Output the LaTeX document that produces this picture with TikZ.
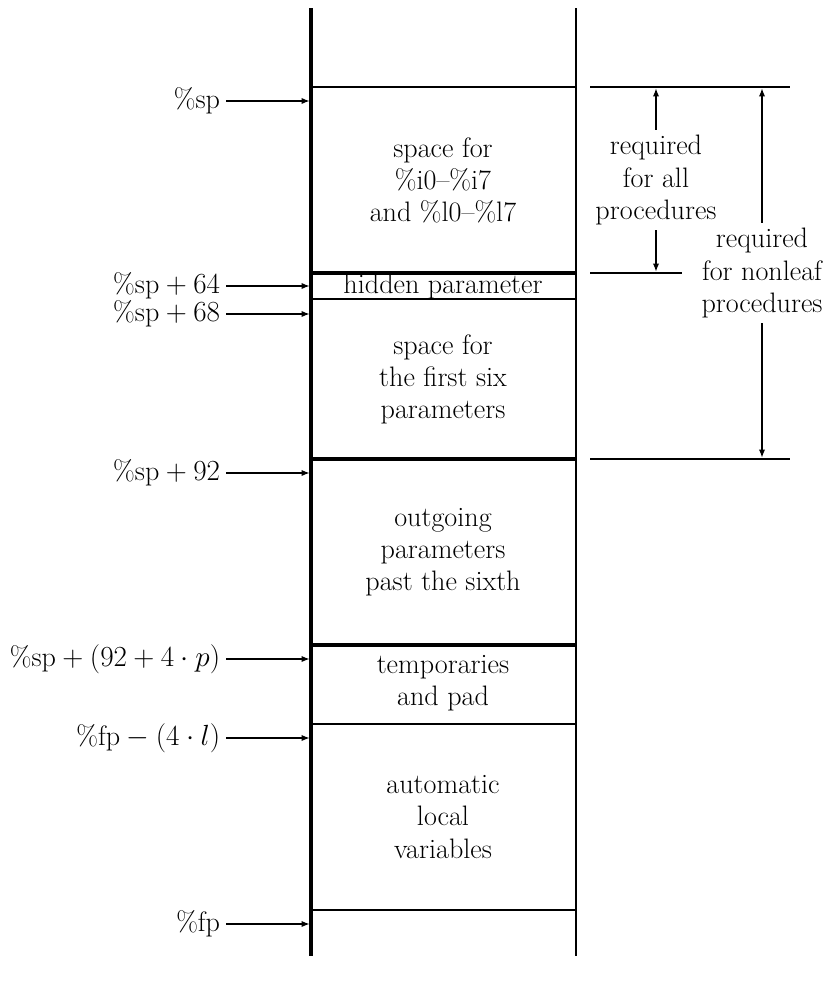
\documentclass[tikz,border=0pt]{standalone}
\usetikzlibrary{arrows.meta}
\tikzset{
  lbl/.style={anchor=east,inner sep=4pt},
  txt/.style={align=center,inner sep=4pt},
  ptr/.style={line width=1.8pt,-{Latex[length=6pt,width=4.5pt]}},
  sepline/.style={line width=1.5pt},
  boldline/.style={line width=2.2pt}
}
\begin{document}
\begin{tikzpicture}[x=0.025cm,y=-0.025cm,font=\fontsize{20}{22.8}\selectfont]
            \useasboundingbox (0,0) rectangle (831,986);
            % the stack
            \draw[boldline] (311,8) -- (311,956);
            \draw[sepline] (576,8) -- (576,956);
            \draw[sepline] (311,87) -- (576,87);
            \draw[boldline] (311,273) -- (576,273);
            \draw[sepline] (311,299) -- (576,299);
            \draw[boldline] (311,459) -- (576,459);
            \draw[boldline] (311,645) -- (576,645);
            \draw[sepline] (311,724) -- (576,724);
            \draw[sepline] (311,910) -- (576,910);

            \node[txt] (save) at (443,180) {space for\\\%i0--\%i7\\and \%l0--\%l7};
            \node[txt] (hidden) at (443,286) {hidden parameter};
            \node[txt] (six) at (443,379) {space for\\the first six\\parameters};
            \node[txt] (outgo) at (443,552) {outgoing\\parameters\\past the sixth};
            \node[txt] (temps) at (443,683) {temporaries\\and pad};
            \node[txt] (locals) at (443,817) {automatic\\local\\variables};

            % pointers into the stack
            \node[lbl] (sp) at (226,101) {\%sp};
            \node[lbl] (sp64) at (226,286) {\%sp${}+64$};
            \node[lbl] (sp68) at (226,314) {\%sp${}+68$};
            \node[lbl] (sp92) at (226,473) {\%sp${}+92$};
            \node[lbl] (spp) at (226,659) {\%sp${}+(92+4\cdot p)$};
            \node[lbl] (fpl) at (226,738) {\%fp${}-(4\cdot l)$};
            \node[lbl] (fp) at (226,924) {\%fp};

            \coordinate (w1) at (310,101);
            \coordinate (w2) at (310,286);
            \coordinate (w3) at (310,314);
            \coordinate (w4) at (310,473);
            \coordinate (w5) at (310,659);
            \coordinate (w6) at (310,738);
            \coordinate (w7) at (310,924);

            \draw[ptr] (sp) -- (w1);
            \draw[ptr] (sp64) -- (w2);
            \draw[ptr] (sp68) -- (w3);
            \draw[ptr] (sp92) -- (w4);
            \draw[ptr] (spp) -- (w5);
            \draw[ptr] (fpl) -- (w6);
            \draw[ptr] (fp) -- (w7);

            % sizes on the right
            \draw[sepline] (590,87) -- (790,87);
            \draw[sepline] (590,273) -- (682,273);
            \draw[sepline] (590,459) -- (790,459);

            \node[txt] (allp) at (656,180) {required\\for all\\procedures};
            \node[txt] (nonleaf) at (762,273) {required\\for nonleaf\\procedures};

            \coordinate (a1) at (656,88);
            \coordinate (a2) at (656,272);
            \coordinate (n1) at (762,88);
            \coordinate (n2) at (762,458);

            \draw[ptr] (allp) -- (a1);
            \draw[ptr] (allp) -- (a2);
            \draw[ptr] (nonleaf) -- (n1);
            \draw[ptr] (nonleaf) -- (n2);
\end{tikzpicture}
\end{document}
